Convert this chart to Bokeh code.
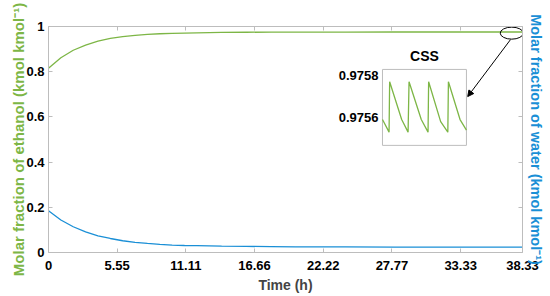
from bokeh.plotting import figure
from bokeh.models import Range1d, LinearAxis, FixedTicker, Arrow, NormalHead, ColumnDataSource
from bokeh.embed import file_html
from bokeh.resources import INLINE
from bokeh.core.properties import value

# ---- data ----
time_h = [0, 1, 2, 3, 4, 5, 6, 7, 8, 9, 10, 11, 12, 14, 16, 18, 20, 24, 28, 32, 38.33]
ethanol = [0.815, 0.862, 0.895, 0.918, 0.935, 0.947, 0.955, 0.961, 0.965, 0.968, 0.970,
           0.971, 0.972, 0.974, 0.9745, 0.975, 0.9752, 0.9755, 0.9756, 0.9756, 0.9756]
water = [0.185, 0.144, 0.114, 0.091, 0.074, 0.062, 0.052, 0.045, 0.040, 0.036, 0.033,
         0.031, 0.030, 0.028, 0.027, 0.026, 0.025, 0.0245, 0.024, 0.024, 0.024]

x_ticks = [0, 5.55, 11.11, 16.66, 22.22, 27.77, 33.33, 38.33]
x_tick_labels = ["0", "5.55", "11.11", "16.66", "22.22", "27.77", "33.33", "38.33"]
y_ticks = [0, 0.2, 0.4, 0.6, 0.8, 1]
y_tick_labels = ["0", "0.2", "0.4", "0.6", "0.8", "1"]

# CSS inset (cyclic steady state), time in cycles
css_t = [0, 0.34, 0.37, 0.99, 1.32, 1.37, 2.0, 2.35, 2.38, 3.0, 3.37, 3.40, 4.0, 4.33]
css_x = [0.97559, 0.97553, 0.97577, 0.97559, 0.97553, 0.97577, 0.97559, 0.97553,
         0.97577, 0.97558, 0.97553, 0.97577, 0.97559, 0.97554]
css_ticks = [0.9756, 0.9758]
css_tick_labels = ["0.9756", "0.9758"]

GREEN = "#7db646"
BLUE = "#1a8fd6"
AXIS_GRAY = "#bdbdbd"
FONT = "Liberation Sans"

p = figure(frame_width=474, frame_height=226,
           x_range=Range1d(0, 38.33), y_range=Range1d(0, 1),
           output_backend="svg", toolbar_location=None,
           min_border_left=48, min_border_top=26, min_border_right=20, min_border_bottom=40)
p.grid.visible = False
p.outline_line_color = None
p.background_fill_color = "white"
p.border_fill_color = "white"

# inset coordinate system mapped onto the frame
p.extra_x_ranges = {"ix": Range1d(-17.22, 7.22)}
p.extra_y_ranges = {"iy": Range1d(0.974957, 0.976033)}

def style_axis(ax):
    ax.axis_line_color = AXIS_GRAY
    ax.major_tick_line_color = AXIS_GRAY
    ax.minor_tick_line_color = AXIS_GRAY
    ax.major_tick_in = 4
    ax.major_tick_out = 0
    ax.minor_tick_in = 4
    ax.minor_tick_out = 0
    ax.major_label_text_font = FONT
    ax.major_label_text_font_style = "bold"
    ax.major_label_text_font_size = "13px"
    ax.major_label_text_color = "black"
    ax.axis_label_text_font = FONT
    ax.axis_label_text_font_style = "bold"

xa = p.xaxis[0]
style_axis(xa)
xa.ticker = FixedTicker(ticks=x_ticks)
xa.major_label_overrides = dict(zip(x_ticks, x_tick_labels))
xa.major_label_standoff = 8
xa.axis_label = "Time (h)"
xa.axis_label_text_font_size = "14px"
xa.axis_label_standoff = 4

ya = p.yaxis[0]
style_axis(ya)
ya.ticker = FixedTicker(ticks=y_ticks)
ya.major_label_overrides = dict(zip(y_ticks, y_tick_labels))
ya.major_label_standoff = 4
ya.axis_label = "Molar fraction of ethanol (kmol kmol⁻¹)"
ya.axis_label_text_color = GREEN
ya.axis_label_text_font_size = "15px"
ya.axis_label_standoff = -4

# mirrored axes (ticks only, drawn as minor ticks so no tick labels exist)
ra = LinearAxis(ticker=FixedTicker(ticks=[], minor_ticks=y_ticks))
style_axis(ra)
ra.axis_label = "Molar fraction of water (kmol kmol⁻¹)"
ra.axis_label_text_color = BLUE
ra.axis_label_text_font_size = "14.5px"
ra.axis_label_standoff = 5
ra.major_label_standoff = 0
p.add_layout(ra, "right")

ta = LinearAxis(ticker=FixedTicker(ticks=[], minor_ticks=x_ticks))
style_axis(ta)
ta.major_label_standoff = 0
p.add_layout(ta, "above")

# main curves
src = ColumnDataSource(dict(t=time_h, eth=ethanol, wat=water))
p.line("t", "eth", source=src, line_color=GREEN, line_width=1.3)
p.line("t", "wat", source=src, line_color=BLUE, line_width=1.3)

# ellipse marking the steady state end of the ethanol curve
p.ellipse(x=[time_h[-1] - 0.87], y=[ethanol[-1] - 0.005], width=23, height=12,
          width_units="screen", height_units="screen",
          fill_alpha=0, line_color="black", line_width=1)
p.add_layout(Arrow(end=NormalHead(size=6, fill_color="black", line_color="black"),
                   x_start=37.36, y_start=0.942, x_end=33.9, y_end=0.69,
                   line_color="black", line_width=1))

# inset box
box_l, box_r, box_b, box_t = 0, 4.33, 0.975467, 0.9758286
p.quad(left=[box_l], right=[box_r], bottom=[box_b], top=[box_t],
       x_range_name="ix", y_range_name="iy",
       fill_color="white", line_color=AXIS_GRAY, line_width=1)
p.line(css_t, css_x, x_range_name="ix", y_range_name="iy",
       line_color=GREEN, line_width=1.3)
p.text(x=[box_l] * 2, y=css_ticks, text=css_tick_labels,
       x_range_name="ix", y_range_name="iy",
       x_offset=-4, text_align="right", text_baseline="middle",
       text_font=value(FONT), text_font_style="bold", text_font_size="13px",
       text_color="black")
p.text(x=[(box_l + box_r) / 2], y=[box_t], text=["CSS"],
       x_range_name="ix", y_range_name="iy",
       y_offset=-5, text_align="center", text_baseline="bottom",
       text_font=value(FONT), text_font_style="bold", text_font_size="14px",
       text_color="black")

open("out.html", "w").write(file_html(p, INLINE))
